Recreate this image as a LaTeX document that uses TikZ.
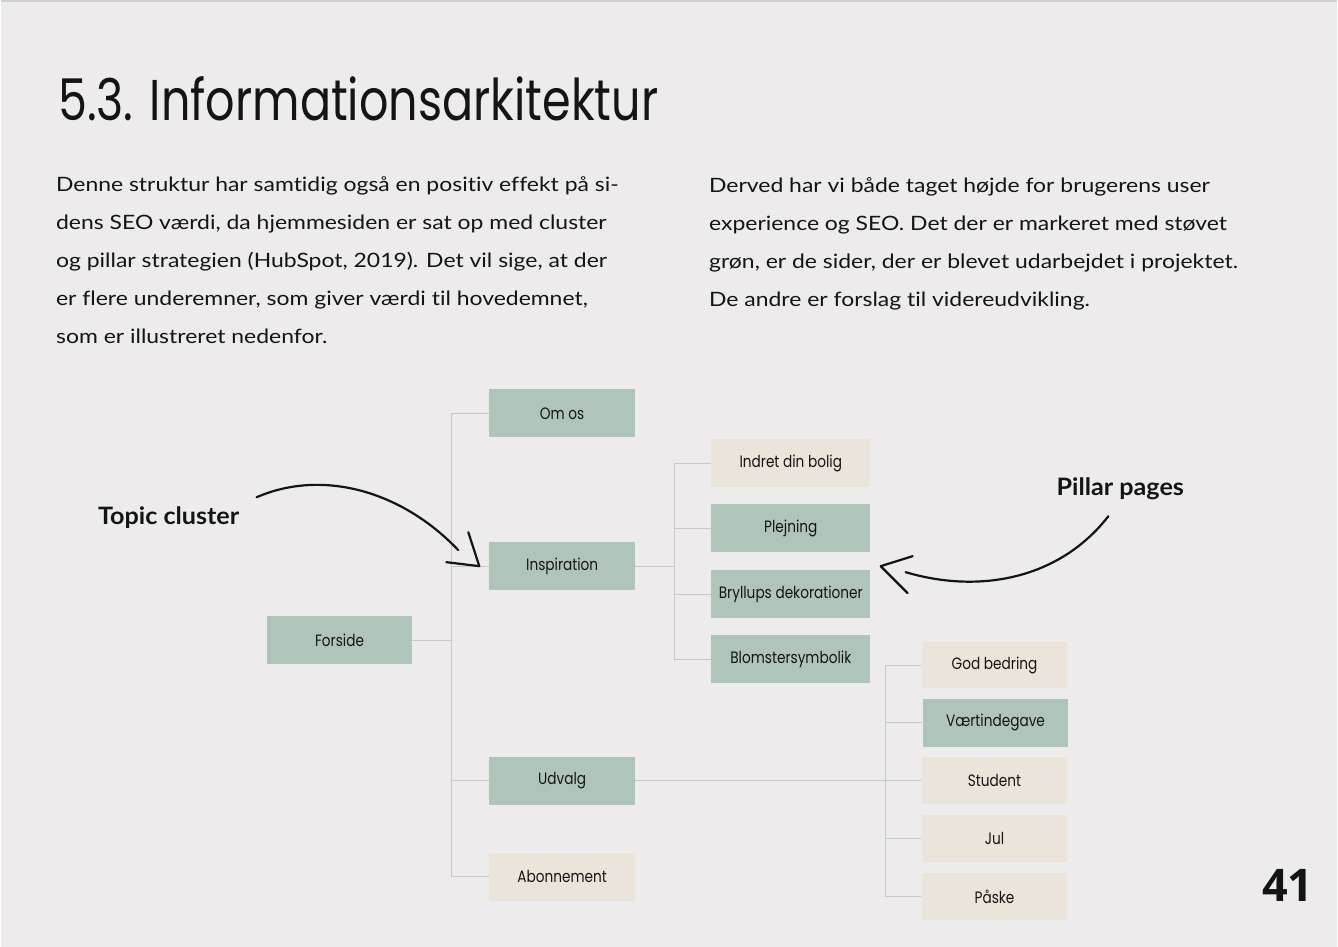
\documentclass[tikz,border=0pt]{standalone}
\usepackage{fontspec}
\usepackage{graphicx}
\setmainfont{Lato}
\newfontfamily\bodyfont[FakeStretch=1.16,Ligatures=NoCommon]{Lato}
\newfontfamily\calloutfont[FakeStretch=1.05]{Lato}
\newfontfamily\boxfont[FakeStretch=0.83]{Poppins}
\newfontfamily\titlefont{Poppins}
\newfontfamily\numfont{Open Sans}
\definecolor{bg}{HTML}{EDEBEB}
\definecolor{sage}{HTML}{B0C5B9}
\definecolor{sand}{HTML}{EBE4DB}
\definecolor{wire}{HTML}{C8C8C8}
\definecolor{ink}{HTML}{141414}
\begin{document}
\begin{tikzpicture}[x=1pt,y=-1pt,
  page/.style={anchor=base west,inner sep=0,text=ink},
  bodytext/.style={page,align=left,font=\bodyfont\fontsize{19.8}{38}\selectfont},
  callout/.style={page,font=\calloutfont\bfseries\fontsize{24}{28}\selectfont},
  card/.style={minimum width=146pt,minimum height=48pt,inner sep=0,text=ink,
    font=\boxfont\fontsize{16.5}{20}\selectfont},
  done/.style={card,fill=sage},
  idea/.style={card,fill=sand},
  wide/.style={minimum width=159pt},
  link/.style={draw=wire,line width=0.9pt},
  hand/.style={draw=ink,line width=2.2pt,line cap=round,line join=round}]

% page background and rule at the top
\fill[bg] (0,0) rectangle (1338,948);
\draw[draw=black!18,line width=2pt] (0,1) -- (1338,1);

% heading and the two text columns (anchored at the baseline of the last line)
\node[page] (title) at (57,121)
  {\resizebox{601pt}{44pt}{\titlefont 5.3. Informationsarkitektur}};
\node[bodytext] (colA) at (55,344) {Denne struktur har samtidig også en positiv effekt på si-\\
dens SEO værdi, da hjemmesiden er sat op med cluster\\
og pillar strategien (HubSpot, 2019). Det vil sige, at der\\
er flere underemner, som giver værdi til hovedemnet,\\
som er illustreret nedenfor.};
\node[bodytext] (colB) at (709,307) {Derved har vi både taget højde for brugerens user\\
experience og SEO. Det der er markeret med støvet\\
grøn, er de sider, der er blevet udarbejdet i projektet.\\
De andre er forslag til videreudvikling.};

% site map
\node[done] (forside) at (339,641) {Forside};
\node[done] (omos) at (562,414) {Om os};
\node[done] (insp) at (562,567) {Inspiration};
\node[done] (udvalg) at (562,782) {Udvalg};
\node[idea] (abo) at (562,878) {Abonnement};

\node[idea,wide] (indret) at (791,464) {Indret din bolig};
\node[done,wide] (plej) at (791,529) {Plejning};
\node[done,wide] (bryl) at (791,595) {Bryllups dekorationer};
\node[done,wide] (blom) at (791,660) {Blomstersymbolik};

\node[idea,minimum height=47pt] (god) at (995,666) {God bedring};
\node[done] (vaert) at (996,724) {Værtindegave};
\node[idea,minimum height=47pt] (stud) at (995,782) {Student};
\node[idea,minimum height=47pt] (jul) at (995,840) {Jul};
\node[idea,minimum height=47pt] (paaske) at (995,898) {Påske};

\foreach \c in {omos,insp,udvalg,abo}
  \draw[link] (forside.east) -- ++(39,0) |- (\c.west);
\foreach \c in {indret,plej,bryl,blom}
  \draw[link] (insp.east) -- ++(39,0) |- (\c.west);
\foreach \c in {god,vaert,stud,jul,paaske}
  \draw[link] (udvalg.east) -- ++(251,0) |- (\c.west);

% callouts with hand-drawn arrows
\node[callout] (topic) at (97,525) {Topic cluster};
\node[callout] (pillar) at (1057,496) {Pillar pages};

\coordinate (tA) at (256,498);
\coordinate (tB) at (458,551);
\coordinate (tTip) at (479,567);
\draw[hand] (tA) .. controls (320,470) and (400,490) .. (tB);
\draw[hand] (468,533) -- (tTip) -- (446,563);

\coordinate (pA) at (1109,517);
\coordinate (pB) at (906,573);
\coordinate (pTip) at (881,567);
\draw[hand] (pA) .. controls (1060,580) and (980,595) .. (pB);
\draw[hand] (913,557) -- (pTip) -- (908,594);

% page number
\node[page,font=\numfont\bfseries\fontsize{45}{50}\selectfont] (pageno) at (1263,903) {41};
\end{tikzpicture}
\end{document}
